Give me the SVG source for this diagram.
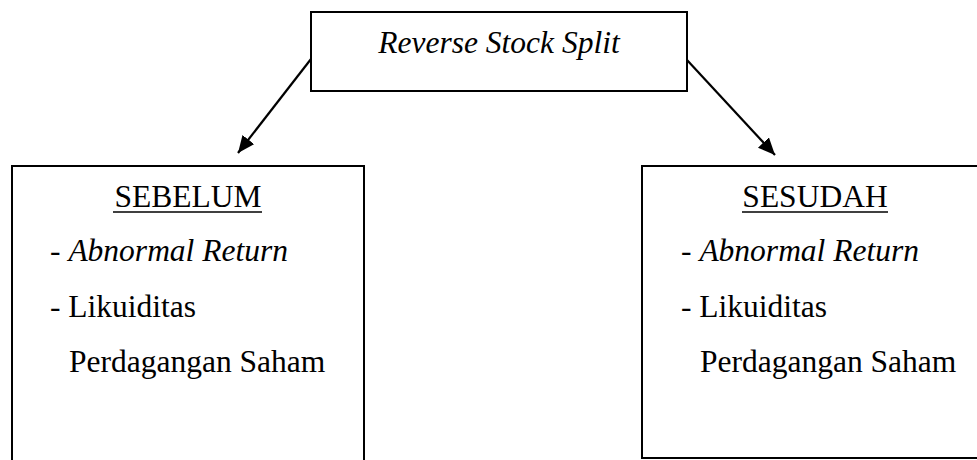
<svg xmlns="http://www.w3.org/2000/svg" width="977" height="460" viewBox="0 0 977 460">
<style>
.box{fill:#fff;stroke:#000;stroke-width:2}
.t{font-family:"Liberation Serif","Times New Roman",serif;font-size:31.5px;fill:#000}
.i{font-style:italic}
.ul{stroke:#000;stroke-width:1.6}
.conn{stroke:#000;stroke-width:2.2;fill:none}
</style>
<defs>
<marker id="ah" markerUnits="userSpaceOnUse" markerWidth="18" markerHeight="16" refX="17" refY="7.5" orient="auto">
<path d="M0,0 L17,7.5 L0,15 z" fill="#000"/>
</marker>
</defs>
<rect width="977" height="460" fill="#fff"/>
<g id="connectors">
<line class="conn" x1="311" y1="59" x2="238" y2="153" marker-end="url(#ah)"/>
<line class="conn" x1="687" y1="60" x2="775" y2="155" marker-end="url(#ah)"/>
</g>
<g id="top">
<rect class="box" x="311" y="12" width="376" height="79"/>
<text class="t i" x="499" y="53" text-anchor="middle">Reverse Stock Split</text>
</g>
<g id="sebelum">
<rect class="box" x="12" y="166" width="352" height="310"/>
<text class="t" x="188" y="207" text-anchor="middle">SEBELUM</text>
<line class="ul" x1="113" y1="212" x2="262" y2="212"/>
<text class="t" x="50" y="261">- <tspan class="i">Abnormal Return</tspan></text>
<text class="t" x="50" y="317">- Likuiditas</text>
<text class="t" x="69" y="372">Perdagangan Saham</text>
</g>
<g id="sesudah">
<rect class="box" x="642" y="166" width="350" height="292"/>
<text class="t" x="815" y="207" text-anchor="middle">SESUDAH</text>
<line class="ul" x1="742" y1="212" x2="888" y2="212"/>
<text class="t" x="681" y="261">- <tspan class="i">Abnormal Return</tspan></text>
<text class="t" x="681" y="317">- Likuiditas</text>
<text class="t" x="700" y="372">Perdagangan Saham</text>
</g>
</svg>
